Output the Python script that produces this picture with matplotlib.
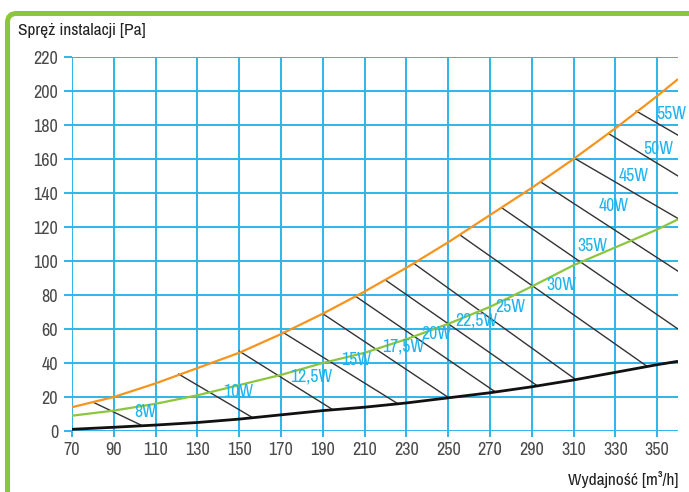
import matplotlib
matplotlib.use("Agg")
import matplotlib.pyplot as plt
from matplotlib.patches import FancyBboxPatch
from matplotlib.transforms import IdentityTransform
from matplotlib import font_manager

# ---- data ----
flow = [70, 90, 110, 130, 150, 170, 190, 210, 230, 250, 270, 290, 310, 330, 350, 360]
orange_p = [14, 20, 28, 37, 46, 57, 69, 82, 96, 111, 127, 143, 160, 178, 197, 207]
green_p = [9, 12, 16, 21, 27, 33, 40, 46, 54, 63, 73, 85, 97.5, 108, 118.5, 124.5]
black_p = [1, 2.2, 3.5, 5, 7, 9.5, 12, 14, 16.5, 19.5, 22.5, 26, 30, 34.5, 39, 41]

hatch_x0 = [80, 121, 150, 171, 190, 205.5, 220, 234, 256, 276, 294.4, 310.5, 326.7, 340]
hatch_y0 = [17, 33.5, 47, 58, 69, 79.4, 88.8, 98.2, 115, 131, 146.4, 160.4, 175, 188.2]
hatch_x1 = [103, 156.5, 195, 226, 250, 272, 293, 311, 345, 360, 360, 360, 360, 360]
hatch_y1 = [3.5, 7.8, 12.4, 16, 19.8, 23.5, 26.3, 30.3, 38.2, 60, 94, 125, 150, 174]

power_labels = ["8W", "10W", "12,5W", "15W", "17,5W", "20W", "22,5W", "25W",
                "30W", "35W", "40W", "45W", "50W", "55W"]
label_x = [105, 149.6, 184.7, 206, 228.6, 244.3, 263.7, 279.7, 304.4, 319.2, 329.1, 339, 350.6, 356.6]
label_y = [11.4, 23, 32, 41.8, 50, 57, 65, 72.8, 85.9, 109, 132.5, 150, 165.7, 186.3]

x_ticks = list(range(70, 351, 20))
y_ticks = list(range(0, 221, 20))

# ---- fonts: prefer a condensed face if one is installed ----
fam = ["Roboto", "DejaVu Sans"]
stretch = "normal"
size_scale = 0.92
cond_names = sorted({f.name for f in font_manager.fontManager.ttflist
                     if ("condensed" in f.name.lower() or "narrow" in f.name.lower())})
if cond_names:
    fam = [cond_names[0], "DejaVu Sans"]
    size_scale = 1.0
else:
    for f in font_manager.fontManager.ttflist:
        if f.name == "DejaVu Sans" and "Condensed" in f.fname:
            fam = ["DejaVu Sans"]
            stretch = "condensed"
            size_scale = 0.95
            break
plt.rcParams["font.family"] = fam
plt.rcParams["font.stretch"] = stretch

grid_c = "#2eb4ea"
lbl_c = "#1fb3ef"

fig = plt.figure(figsize=(6.89, 4.92), dpi=100)
ax = fig.add_axes([72 / 689, 1 - 431 / 492, (678 - 72) / 689, (431 - 57) / 492])

ax.set_xlim(70, 360)
ax.set_ylim(0, 220)
ax.set_xticks(x_ticks)
ax.set_yticks(y_ticks)
ax.grid(True, color=grid_c, linewidth=1.4, zorder=0)
ax.set_axisbelow(True)
for s in ax.spines.values():
    s.set_visible(False)
ax.tick_params(axis="both", colors=grid_c, width=1.4, labelcolor="#4a4a4a",
               labelsize=13 * size_scale)
ax.tick_params(axis="x", length=4, pad=4)
ax.tick_params(axis="y", length=6, pad=4)
for lab in ax.get_xticklabels() + ax.get_yticklabels():
    lab.set_fontstretch(stretch)

ax.plot(flow, orange_p, color="#f7941d", linewidth=1.6, zorder=3, solid_capstyle="butt")
ax.plot(flow, green_p, color="#8cc63e", linewidth=1.6, zorder=3, solid_capstyle="butt")
ax.plot(flow, black_p, color="#111111", linewidth=2.0, zorder=3, solid_capstyle="butt")

for x0, y0, x1, y1 in zip(hatch_x0, hatch_y0, hatch_x1, hatch_y1):
    ax.plot([x0, x1], [y0, y1], color="#333333", linewidth=1.0, zorder=2)

for t, x, y in zip(power_labels, label_x, label_y):
    ax.text(x, y, t, color=lbl_c, fontsize=12.8 * size_scale, ha="center", va="center",
            zorder=4, clip_on=False, fontstretch=stretch)

fig.text(18 / 689, 1 - 30 / 492, "Spręż instalacji [Pa]", fontsize=12.5 * size_scale,
         color="#222222", ha="left", va="center", fontstretch=stretch)
fig.text(678 / 689, 1 - 480 / 492, "Wydajność [m³/h]", fontsize=12.5 * size_scale,
         color="#222222", ha="right", va="center", fontstretch=stretch)

frame = FancyBboxPatch((7.5, -60), 760, 492 - 13.5 + 60,
                       boxstyle="round,pad=0,rounding_size=9",
                       transform=IdentityTransform(), facecolor="none",
                       edgecolor="#8cc63e", linewidth=3.6, zorder=10)
fig.patches.append(frame)

fig.savefig("out.png", dpi=100)
